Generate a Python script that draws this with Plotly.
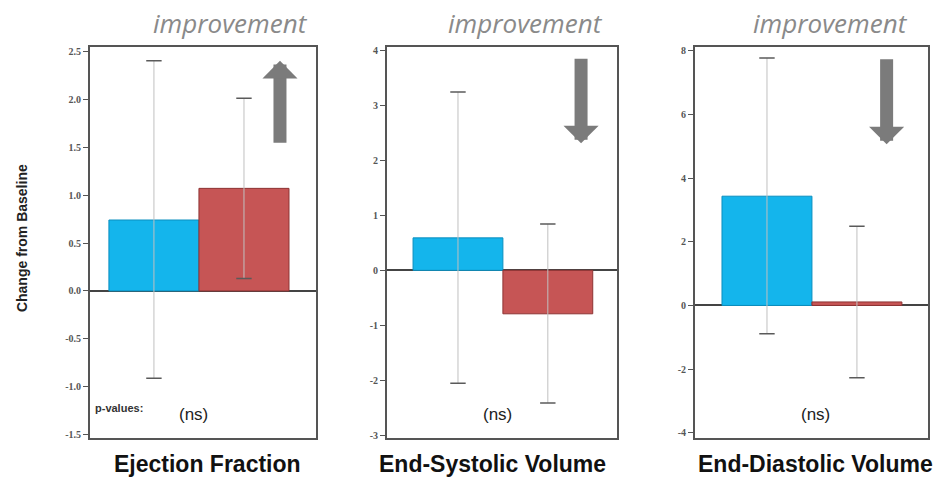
import plotly.graph_objects as go

# ---------------- data ----------------
panels = ["Ejection Fraction", "End-Systolic Volume", "End-Diastolic Volume"]
groups = [0, 1]                       # blue group, red group
ef_values = [0.74, 1.07]
ef_hi = [2.40, 2.01]
ef_lo = [-0.91, 0.13]
esv_values = [0.59, -0.79]
esv_hi = [3.24, 0.84]
esv_lo = [-2.05, -2.41]
edv_values = [3.43, 0.11]
edv_hi = [7.77, 2.49]
edv_lo = [-0.89, -2.27]

ef_ticks = [-1.5, -1.0, -0.5, 0.0, 0.5, 1.0, 1.5, 2.0, 2.5]
ef_ticklabels = ["-1.5", "-1.0", "-0.5", "0.0", "0.5", "1.0", "1.5", "2.0", "2.5"]
esv_ticks = [-3, -2, -1, 0, 1, 2, 3, 4]
esv_ticklabels = ["-3", "-2", "-1", "0", "1", "2", "3", "4"]
edv_ticks = [-4, -2, 0, 2, 4, 6, 8]
edv_ticklabels = ["-4", "-2", "0", "2", "4", "6", "8"]

y_ranges = [[-1.53, 2.54], [-3.04, 4.05], [-4.15, 8.1]]
x_ranges = [[-0.71, 1.8], [-0.79, 1.77], [-0.8, 1.79]]

# improvement arrows: (x, tail y, tip y)
arrow_x = [1.40, 1.37, 1.33]
arrow_tail = [1.53, 3.87, 7.78]
arrow_tip = [2.40, 2.31, 5.06]

ns_label = "(ns)"
ns_x = [0.44, 0.44, 0.54]
ns_y = [-1.29, -2.62, -3.43]

bar_colors = ["#14b5ec", "#c65555"]
bar_lines = ["#0b8fbf", "#8e3434"]

# ---------------- layout geometry ----------------
W, H = 945, 491
x_domains = [[90 / W, 316 / W], [387 / W, 617 / W], [695 / W, 928 / W]]
y_domain = [1 - 440 / H, 1 - 45 / H]
title_centers = [207, 492, 815]
improve_centers = [230, 525, 830]

values = [ef_values, esv_values, edv_values]
his = [ef_hi, esv_hi, edv_hi]
los = [ef_lo, esv_lo, edv_lo]
ticks = [ef_ticks, esv_ticks, edv_ticks]
ticklabels = [ef_ticklabels, esv_ticklabels, edv_ticklabels]

fig = go.Figure()
annotations = []
layout = {}

for i in range(3):
    sfx = "" if i == 0 else str(i + 1)
    xa, ya = "x" + sfx, "y" + sfx
    v, hi, lo = values[i], his[i], los[i]
    fig.add_trace(go.Bar(
        x=groups, y=v, width=1, xaxis=xa, yaxis=ya,
        marker=dict(color=bar_colors, line=dict(color=bar_lines, width=1)),
        error_y=dict(type="data", symmetric=False,
                     array=[h - a for h, a in zip(hi, v)],
                     arrayminus=[a - l for a, l in zip(v, lo)],
                     color="#c0c0c0", thickness=1, width=0),
        showlegend=False, hoverinfo="skip"))
    fig.add_trace(go.Scatter(
        x=groups + groups, y=hi + lo, mode="markers", xaxis=xa, yaxis=ya,
        marker=dict(symbol="line-ew", size=11, line=dict(color="#5a5a5a", width=1.5)),
        showlegend=False, hoverinfo="skip"))

    layout["xaxis" + sfx] = dict(
        domain=x_domains[i], range=x_ranges[i], anchor=ya,
        showticklabels=False, ticks="", showgrid=False, zeroline=False,
        showline=True, mirror=True, linecolor="#555555", linewidth=2)
    layout["yaxis" + sfx] = dict(
        domain=y_domain, range=y_ranges[i], anchor=xa,
        tickvals=ticks[i], ticktext=ticklabels[i],
        ticks="outside", ticklen=5, tickcolor="#555555", tickwidth=1,
        tickfont=dict(family="Liberation Serif", size=10, color="#555555", weight="bold"),
        showgrid=False, zeroline=True, zerolinecolor="#444444", zerolinewidth=1.5,
        showline=True, mirror=True, linecolor="#555555", linewidth=2)

    # improvement arrow
    annotations.append(dict(
        x=arrow_x[i], y=arrow_tip[i], ax=arrow_x[i], ay=arrow_tail[i],
        xref=xa, yref=ya, axref=xa, ayref=ya, text="", showarrow=True,
        arrowhead=1, arrowsize=0.45, arrowwidth=13, arrowcolor="#7b7b7b"))
    # (ns)
    annotations.append(dict(
        x=ns_x[i], y=ns_y[i], xref=xa, yref=ya, text=ns_label, showarrow=False,
        xanchor="center", yanchor="middle",
        font=dict(family="Liberation Sans", size=17, color="#222222")))
    # bottom title
    annotations.append(dict(
        x=title_centers[i] / W, y=1 - 467 / H, xref="paper", yref="paper",
        xanchor="center", yanchor="middle",
        text="<b>" + panels[i] + "</b>", showarrow=False,
        font=dict(family="Liberation Sans", size=23, color="#111111")))
    # improvement label
    annotations.append(dict(
        x=improve_centers[i] / W, y=1 - 20 / H, xref="paper", yref="paper",
        xanchor="center", yanchor="middle",
        text="<i>improvement</i>", showarrow=False,
        font=dict(family="Open Sans", size=26, color="#8a8a8a")))

annotations.append(dict(
    x=93 / W, y=1 - 410 / H, xref="paper", yref="paper", xanchor="left", yanchor="middle",
    text="<b>p-values:</b>", showarrow=False,
    font=dict(family="Liberation Sans", size=11, color="#333333")))
annotations.append(dict(
    x=22 / W, y=1 - 238 / H, xref="paper", yref="paper", textangle=-90,
    xanchor="center", yanchor="middle",
    text="<b>Change from Baseline</b>", showarrow=False,
    font=dict(family="Liberation Sans", size=14, color="#222222")))

fig.update_layout(
    width=W, height=H, margin=dict(l=0, r=0, t=0, b=0),
    paper_bgcolor="white", plot_bgcolor="white",
    annotations=annotations, **layout)

fig.write_html("out.html", config={"displayModeBar": False},
               post_script="document.body.style.margin='0';")
